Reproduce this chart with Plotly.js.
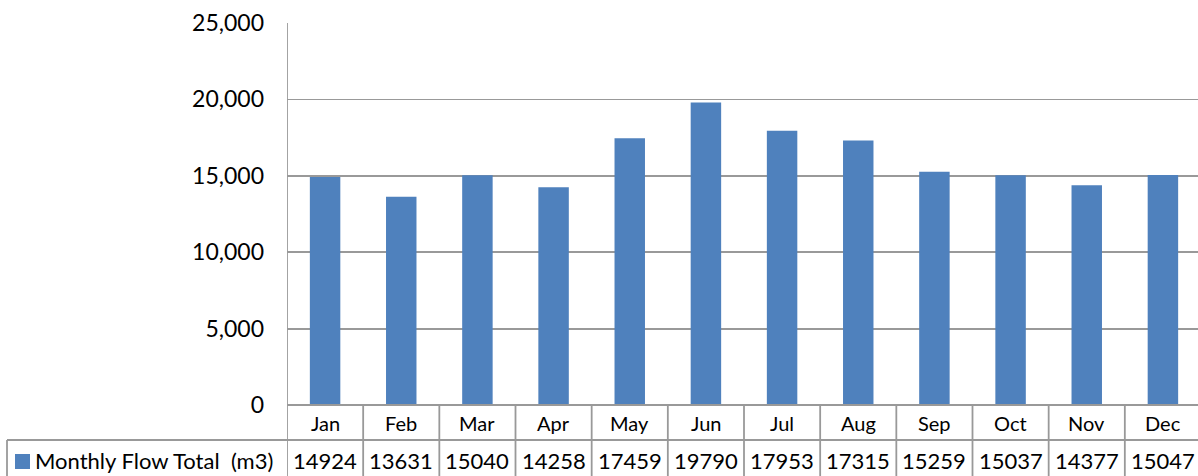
<!DOCTYPE html>
<html>
<head>
<meta charset="utf-8">
<script src="https://cdn.plot.ly/plotly-3.0.1.min.js"></script>
<style>
html, body { margin: 0; padding: 0; overflow: hidden; background: #fff; }
#chart { width: 1212px; height: 476px; }
</style>
</head>
<body>
<div id="chart"></div>
<script>
const months = ["Jan","Feb","Mar","Apr","May","Jun","Jul","Aug","Sep","Oct","Nov","Dec"];
const flowValues = [14924, 13631, 15040, 14258, 17459, 19790, 17953, 17315, 15259, 15037, 14377, 15047];
const seriesName = "Monthly Flow Total  (m3)";
const yTicks = [0, 5000, 10000, 15000, 20000, 25000];
const yTickLabels = ["0", "5,000", "10,000", "15,000", "20,000", "25,000"];

const FONT = "Lato, 'Open Sans', sans-serif";
const GRID = "#999999";
const W = 1212, H = 476, L = 287, R = 11, T = 23, B = 71;
const plotW = W - L - R, plotH = H - T - B;
const px2x = p => (p - L) / plotW;
const py2y = p => (H - B - p) / plotH;

const shapes = [];
shapes.push({type:'line', xref:'x', yref:'paper', x0:-0.5, x1:-0.5, y0:1, y1:py2y(480), line:{color:GRID, width:1.8}});
shapes.push({type:'line', xref:'paper', yref:'paper', x0:0, x1:1, y0:0, y1:0, line:{color:GRID, width:1.8}});
shapes.push({type:'line', xref:'paper', yref:'paper', x0:px2x(7), x1:1, y0:py2y(440), y1:py2y(440), line:{color:GRID, width:1.8}});
shapes.push({type:'line', xref:'paper', yref:'paper', x0:px2x(7), x1:px2x(7), y0:py2y(440), y1:py2y(480), line:{color:GRID, width:1.8}});
for (let i = 0; i < months.length; i++) {
  shapes.push({type:'line', xref:'x', yref:'paper', x0:i + 0.5, x1:i + 0.5, y0:0, y1:py2y(480), line:{color:GRID, width:1.8}});
}
shapes.push({type:'rect', xref:'paper', yref:'paper', x0:px2x(15), x1:px2x(30), y0:py2y(469), y1:py2y(454), fillcolor:'#4f81bd', line:{width:0}});

const annotations = [];
months.forEach((m, i) => {
  annotations.push({x:m, xref:'x', y:py2y(423), yref:'paper', text:m, showarrow:false, xanchor:'center', yanchor:'middle', font:{family:FONT, size:20, color:'#000'}});
  annotations.push({x:m, xref:'x', y:py2y(460), yref:'paper', text:String(flowValues[i]), showarrow:false, xanchor:'center', yanchor:'middle', font:{family:FONT, size:22, color:'#000'}});
});
annotations.push({x:px2x(33), xref:'paper', y:py2y(460), yref:'paper', text:seriesName.replace(/  /g, ' &nbsp;'), showarrow:false, xanchor:'left', yanchor:'middle', font:{family:FONT, size:22, color:'#000'}});

const data = [{
  type: 'bar',
  x: months,
  y: flowValues,
  name: seriesName,
  width: 0.4,
  marker: {color: '#4f81bd', line: {width: 0}},
  hoverinfo: 'x+y'
}];

const layout = {
  width: W, height: H,
  margin: {l: L, r: R, t: T, b: B, pad: 0},
  paper_bgcolor: '#fff',
  plot_bgcolor: '#fff',
  showlegend: false,
  font: {family: FONT, color: '#000'},
  xaxis: {
    type: 'category',
    range: [-0.5, 11.5],
    showticklabels: false,
    showgrid: false,
    zeroline: false,
    showline: false,
    ticks: ''
  },
  yaxis: {
    range: [0, 25000],
    tickvals: yTicks,
    ticktext: yTickLabels,
    tickfont: {family: FONT, size: 23, color: '#000'},
    ticks: '',
    ticklabelstandoff: 22,
    showgrid: true,
    gridcolor: GRID,
    gridwidth: 1.8,
    zeroline: false,
    showline: false
  },
  shapes: shapes,
  annotations: annotations
};

Plotly.newPlot('chart', data, layout, {displayModeBar: false, staticPlot: true});
</script>
</body>
</html>
